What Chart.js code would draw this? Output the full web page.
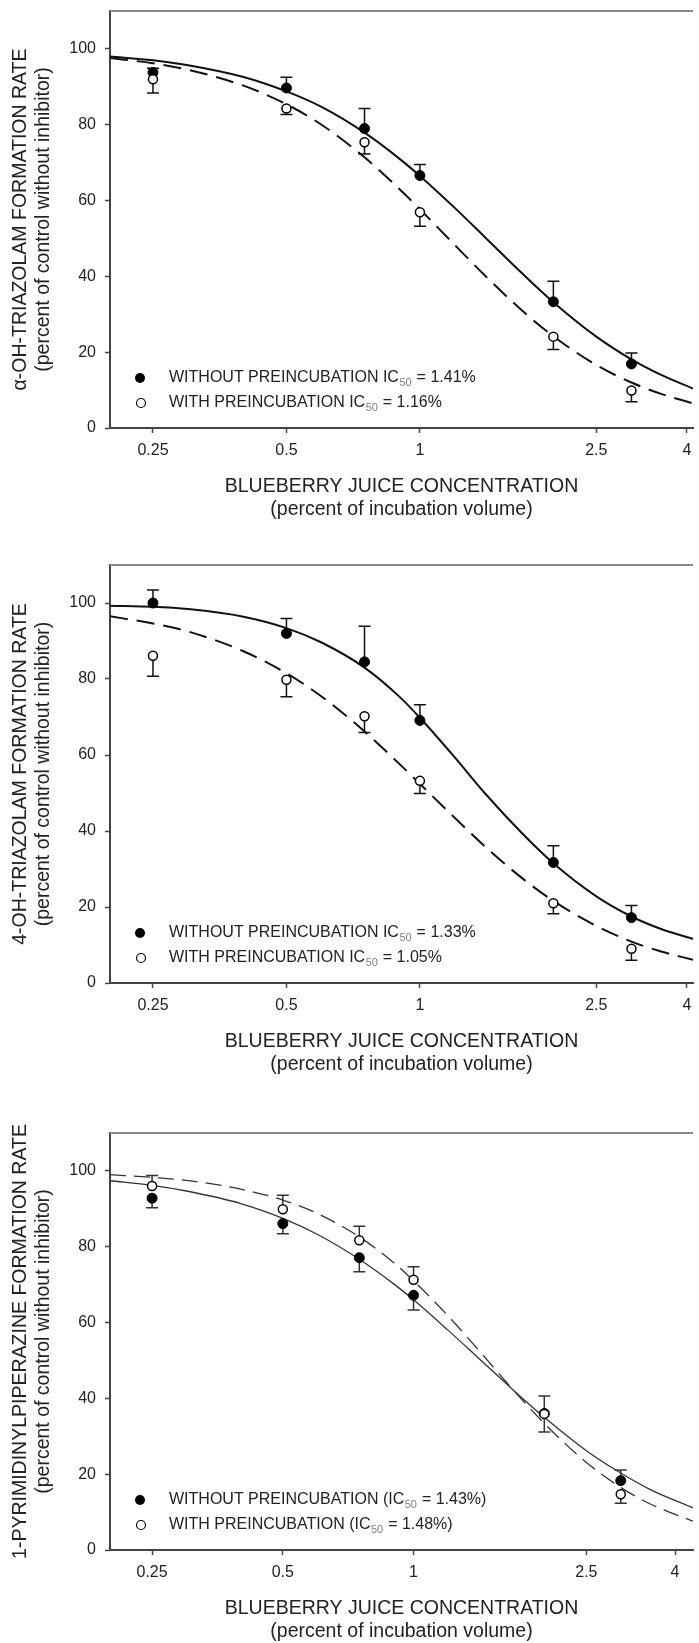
<!DOCTYPE html>
<html>
<head>
<meta charset="utf-8">
<title>Blueberry juice inhibition curves</title>
<script src="https://cdn.jsdelivr.net/npm/chart.js@4.4.1/dist/chart.umd.min.js"></script>
<style>
  body { margin: 0; background: #fff; width: 699px; height: 1643px; position: relative; overflow: hidden; }
  canvas { position: absolute; left: 0; }
</style>
</head>
<body>
<canvas id="alphaChart" width="699" height="521" style="top:0px"></canvas>
<canvas id="fourChart" width="699" height="522" style="top:554px"></canvas>
<canvas id="pyrChart" width="699" height="521" style="top:1122px"></canvas>
<script>
// blueberry juice concentrations tested (percent of incubation volume)
let conc = [0.25, 0.5, 0.75, 1, 2, 3];
let xTicks = [0.25, 0.5, 1, 2.5, 4];
let yTicks = [0, 20, 40, 60, 80, 100];

// alpha-OH-triazolam, mean and error (negative error = bar drawn below the mean)
let alphaWithout = [93.8, 89.7, 79.0, 66.6, 33.3, 16.9];
let alphaWithoutErr = [1.1, 2.8, 5.3, 2.9, 5.4, 2.9];
let alphaWith = [92.0, 84.3, 75.4, 56.9, 24.1, 9.9];
let alphaWithErr = [-3.6, -1.6, -3.1, -3.7, -3.4, -3.0];

// 4-OH-triazolam
let fourWithout = [100.0, 92.0, 84.5, 69.1, 31.7, 17.2];
let fourWithoutErr = [3.4, 3.9, 9.4, 4.1, 4.4, 3.2];
let fourWith = [86.1, 79.8, 70.2, 53.2, 21.0, 9.0];
let fourWithErr = [-5.4, -4.5, -4.3, -3.3, -2.8, -3.0];

// 1-pyrimidinylpiperazine
let pyrWithout = [92.8, 86.1, 77.1, 67.2, 36.0, 18.3];
let pyrWithoutErr = [-2.5, -2.7, -3.7, -3.9, -4.9, 2.8];
let pyrWith = [96.0, 89.9, 81.7, 71.3, 35.9, 14.7];
let pyrWithErr = [2.8, 3.7, 3.7, 3.4, 4.7, -2.4];

// fitted inhibition curves
let curveX = [0.2, 0.25, 0.3, 0.4, 0.5, 0.6, 0.75, 0.9, 1, 1.2, 1.4, 1.7, 2, 2.5, 3, 3.5, 4.13];
let curveXPyr = [0.2, 0.25, 0.3, 0.4, 0.5, 0.6, 0.75, 0.9, 1, 1.2, 1.4, 1.7, 2, 2.5, 3, 3.5, 4.4];
let alphaFitWithout = [98.0, 97.0, 95.7, 92.6, 88.8, 84.7, 77.9, 71.0, 66.5, 58.0, 50.4, 40.8, 33.2, 24.1, 18.1, 14.0, 10.4];
let alphaFitWith = [97.6, 96.2, 94.5, 90.3, 85.4, 80.0, 71.4, 63.0, 57.7, 48.2, 40.3, 31.0, 24.2, 16.6, 12.0, 9.0, 6.5];
let fourFitWithout = [99.3, 99.0, 98.4, 96.4, 93.4, 89.6, 83.0, 75.3, 69.8, 59.3, 50.0, 39.4, 31.5, 22.8, 17.5, 14.2, 11.6];
let fourFitWith = [96.5, 94.6, 92.5, 87.3, 81.5, 75.4, 66.2, 57.6, 52.4, 43.4, 36.0, 27.6, 21.6, 15.0, 10.9, 8.3, 6.1];
let pyrFitWithout = [97.4, 96.2, 94.7, 91.4, 87.5, 83.3, 76.7, 70.2, 66.0, 58.0, 51.0, 42.1, 35.0, 26.2, 20.3, 16.0, 11.1];
let pyrFitWith = [99.0, 98.3, 97.5, 95.2, 92.3, 88.8, 82.6, 75.8, 71.0, 61.8, 53.2, 42.1, 33.4, 23.1, 16.5, 12.2, 7.6];

// IC50 values shown in the legends [without, with]
let alphaIC50 = [1.41, 1.16];
let fourIC50 = [1.33, 1.05];
let pyrIC50 = [1.43, 1.48];

let fontFamily = "'Liberation Sans', Arial, Helvetica, sans-serif";
Chart.defaults.font.family = fontFamily;
Chart.defaults.color = '#222';

let pts = (xs, ys) => xs.map((x, i) => ({x: x, y: ys[i]}));

// top frame line, error bars and the in-plot legend with IC50 subscripts
let panelDecor = {
    id: 'panelDecor',
    beforeDatasetsDraw(chart) {
        let c = chart.ctx, xs = chart.scales.x, ys = chart.scales.y;
        chart.data.datasets.forEach(ds => {
            if (!ds.errors) return;
            c.save();
            c.strokeStyle = ds.barColor;
            c.lineWidth = 1.5;
            ds.data.forEach((p, i) => {
                let px = xs.getPixelForValue(p.x);
                let py = ys.getPixelForValue(p.y);
                let pe = ys.getPixelForValue(p.y + ds.errors[i]);
                c.beginPath();
                c.moveTo(px, py);
                c.lineTo(px, pe);
                c.moveTo(px - 6, pe);
                c.lineTo(px + 6, pe);
                c.stroke();
            });
            c.restore();
        });
    },
    afterDraw(chart, args, opts) {
        let c = chart.ctx, a = chart.chartArea;
        c.save();
        c.strokeStyle = '#8a8a8a';
        c.lineWidth = 2;
        c.beginPath();
        c.moveTo(a.left, a.top);
        c.lineTo(a.right, a.top);
        c.stroke();

        opts.entries.forEach((e, i) => {
            let y = a.bottom - 50 + i * 25;
            c.beginPath();
            if (e.filled) {
                c.arc(a.left + 30, y, 5, 0, 2 * Math.PI);
                c.fillStyle = '#000';
                c.fill();
            } else {
                c.arc(a.left + 31, y, 4.5, 0, 2 * Math.PI);
                c.fillStyle = '#fff';
                c.fill();
                c.lineWidth = 1.2;
                c.strokeStyle = '#000';
                c.stroke();
            }
            c.textBaseline = 'middle';
            let x = a.left + 59;
            c.font = '16px ' + fontFamily;
            c.fillStyle = '#222';
            c.fillText(e.pre, x, y);
            x += c.measureText(e.pre).width;
            c.font = '11px ' + fontFamily;
            c.fillStyle = '#808080';
            c.fillText('50', x + 0.5, y + 5);
            x += c.measureText('50').width + 1;
            c.font = '16px ' + fontFamily;
            c.fillStyle = '#222';
            c.fillText(e.post, x, y);
        });
        c.restore();
    }
};

let makeChart = (id, p) => new Chart(document.getElementById(id).getContext('2d'), {
    type: 'line',
    data: {
        datasets: [{
            data: pts(conc, p.without),
            errors: p.withoutErr,
            barColor: p.lineColor,
            showLine: false,
            pointRadius: 5,
            pointBackgroundColor: '#000',
            pointBorderColor: '#000',
            pointBorderWidth: 1,
            order: 1
        }, {
            data: pts(conc, p.with),
            errors: p.withErr,
            barColor: p.lineColor,
            showLine: false,
            pointRadius: 4.5,
            pointBackgroundColor: '#fff',
            pointBorderColor: '#000',
            pointBorderWidth: 1.5,
            order: 0
        }, {
            data: pts(p.curveX, p.fitWithout),
            borderColor: p.lineColor,
            borderWidth: p.lineWidth,
            pointRadius: 0,
            cubicInterpolationMode: 'monotone',
            order: 3
        }, {
            data: pts(p.curveX, p.fitWith),
            borderColor: p.lineColor,
            borderWidth: p.lineWidth,
            borderDash: p.dash,
            pointRadius: 0,
            cubicInterpolationMode: 'monotone',
            order: 2
        }]
    },
    options: {
        responsive: false,
        animation: false,
        devicePixelRatio: 1,
        layout: { padding: { top: 11, left: 0, right: 0, bottom: 0 } },
        plugins: {
            legend: { display: false },
            tooltip: { enabled: false },
            panelDecor: { entries: p.legend }
        },
        scales: {
            x: {
                type: 'logarithmic',
                min: 0.2,
                max: p.xMax,
                afterBuildTicks: s => { s.ticks = xTicks.map(v => ({value: v})); },
                afterFit: s => { s.height = 93; s.paddingLeft = 0; s.paddingRight = 0; },
                ticks: { callback: v => String(v), font: { size: 16 }, padding: 8, maxRotation: 0, autoSkip: false, color: '#222' },
                grid: { drawOnChartArea: false, tickLength: 5, tickColor: '#444', tickWidth: 1.5 },
                border: { color: '#444', width: 2 },
                title: {
                    display: true,
                    text: ['BLUEBERRY JUICE CONCENTRATION', '(percent of incubation volume)'],
                    font: { size: 19.5, lineHeight: 1.18 },
                    padding: 0,
                    color: '#222'
                }
            },
            y: {
                min: 0,
                max: 110,
                afterBuildTicks: s => { s.ticks = yTicks.map(v => ({value: v})); },
                afterFit: s => { s.width = 110; s.paddingTop = 0; s.paddingBottom = 0; },
                ticks: { font: { size: 16 }, padding: 9, color: '#222' },
                grid: { drawOnChartArea: false, tickLength: 5, tickColor: '#444', tickWidth: 1.5 },
                border: { color: '#444', width: 2 },
                title: {
                    display: true,
                    text: [p.yTitle, '(percent of control without inhibitor)'],
                    font: { size: 19.5, lineHeight: 1.2 },
                    padding: { top: 9, bottom: 0 },
                    color: '#222'
                }
            }
        }
    },
    plugins: [panelDecor]
});

let alphaChart = makeChart('alphaChart', {
    without: alphaWithout, withoutErr: alphaWithoutErr,
    with: alphaWith, withErr: alphaWithErr,
    curveX: curveX, fitWithout: alphaFitWithout, fitWith: alphaFitWith,
    xMax: 4.13, lineColor: '#111', lineWidth: 2, dash: [18, 9],
    yTitle: 'α-OH-TRIAZOLAM FORMATION RATE',
    legend: [
        { filled: true, pre: 'WITHOUT PREINCUBATION IC', post: ' = ' + alphaIC50[0] + '%' },
        { filled: false, pre: 'WITH PREINCUBATION IC', post: ' = ' + alphaIC50[1] + '%' }
    ]
});

let fourChart = makeChart('fourChart', {
    without: fourWithout, withoutErr: fourWithoutErr,
    with: fourWith, withErr: fourWithErr,
    curveX: curveX, fitWithout: fourFitWithout, fitWith: fourFitWith,
    xMax: 4.13, lineColor: '#111', lineWidth: 2, dash: [18, 9],
    yTitle: '4-OH-TRIAZOLAM FORMATION RATE',
    legend: [
        { filled: true, pre: 'WITHOUT PREINCUBATION IC', post: ' = ' + fourIC50[0] + '%' },
        { filled: false, pre: 'WITH PREINCUBATION IC', post: ' = ' + fourIC50[1] + '%' }
    ]
});

let pyrChart = makeChart('pyrChart', {
    without: pyrWithout, withoutErr: pyrWithoutErr,
    with: pyrWith, withErr: pyrWithErr,
    curveX: curveXPyr, fitWithout: pyrFitWithout, fitWith: pyrFitWith,
    xMax: 4.4, lineColor: '#333', lineWidth: 1.3, dash: [16, 8],
    yTitle: '1-PYRIMIDINYLPIPERAZINE FORMATION RATE',
    legend: [
        { filled: true, pre: 'WITHOUT PREINCUBATION (IC', post: ' = ' + pyrIC50[0] + '%)' },
        { filled: false, pre: 'WITH PREINCUBATION (IC', post: ' = ' + pyrIC50[1] + '%)' }
    ]
});
</script>
</body>
</html>
